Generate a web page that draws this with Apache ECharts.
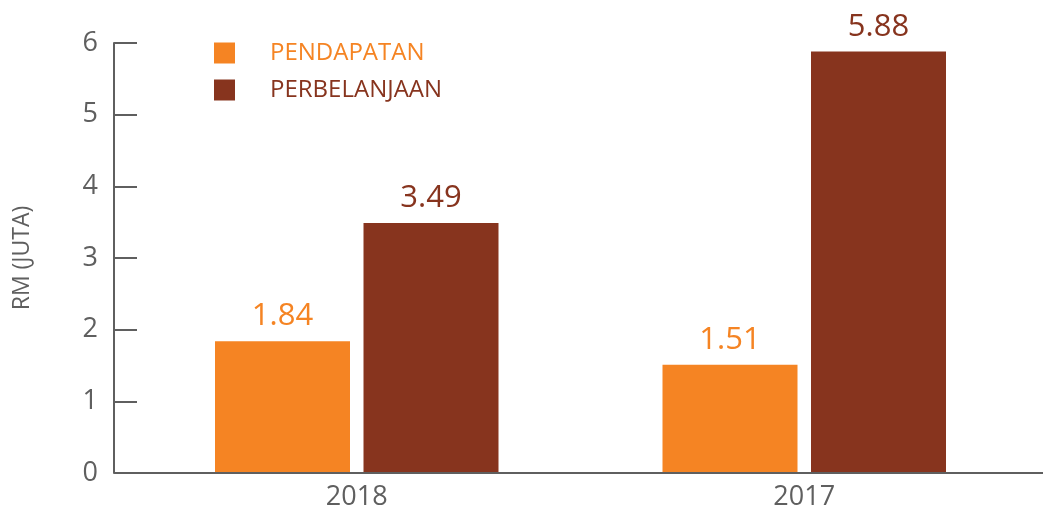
<!DOCTYPE html>
<html>
<head>
<meta charset="utf-8">
<script src="https://cdn.jsdelivr.net/npm/echarts@6/dist/echarts.min.js"></script>
<style>
  html, body { margin: 0; padding: 0; background: #fff; }
  #chart { width: 1043px; height: 514px; }
</style>
</head>
<body>
<div id="chart"></div>
<script>
// data
const categories = ['2018', '2017']
const pendapatan = [1.84, 1.51]
const perbelanjaan = [3.49, 5.88]
const yTicks = [0, 1, 2, 3, 4, 5, 6]

const orange = '#F58423'
const brown = '#87341E'
const grey = '#5f5f5f'
const font = 'Open Sans'

let myChart = echarts.init(document.getElementById('chart'))

let option = {
  animation: false,
  textStyle: { fontFamily: font },
  grid: { left: 133, right: 15, top: 43, bottom: 41, containLabel: false },
  legend: {
    orient: 'vertical',
    left: 214,
    top: 41,
    padding: 0,
    itemWidth: 21,
    itemHeight: 21,
    itemGap: 13,
    icon: 'rect',
    data: [
      { name: 'PENDAPATAN', textStyle: { color: orange } },
      { name: 'PERBELANJAAN', textStyle: { color: brown } }
    ],
    textStyle: { fontSize: 24, fontFamily: font, padding: [0, 0, 0, 30] }
  },
  xAxis: {
    type: 'category',
    data: categories,
    axisLine: { lineStyle: { color: grey, width: 2 } },
    axisTick: { show: false },
    axisLabel: { color: grey, fontSize: 27, margin: 11 }
  },
  yAxis: {
    type: 'value',
    min: yTicks[0],
    max: yTicks[yTicks.length - 1],
    interval: 1,
    offset: 19,
    name: 'RM (JUTA)',
    nameLocation: 'middle',
    nameGap: 80,
    nameTextStyle: { color: grey, fontSize: 23 },
    axisLine: { show: true, lineStyle: { color: grey, width: 2 } },
    axisTick: { show: true, inside: true, length: 23, lineStyle: { color: grey, width: 2 } },
    axisLabel: { color: grey, fontSize: 27, margin: 16 },
    splitLine: { show: false }
  },
  series: [
    {
      name: 'PENDAPATAN',
      type: 'bar',
      data: pendapatan,
      barWidth: 135,
      barGap: '10%',
      itemStyle: { color: orange },
      label: { show: true, position: 'top', distance: 9, color: orange, fontSize: 31, fontFamily: font }
    },
    {
      name: 'PERBELANJAAN',
      type: 'bar',
      data: perbelanjaan,
      barWidth: 135,
      barGap: '10%',
      itemStyle: { color: brown },
      label: { show: true, position: 'top', distance: 9, color: brown, fontSize: 31, fontFamily: font }
    }
  ]
}

myChart.setOption(option)

// extend the base line to both edges like the original
let y0 = myChart.convertToPixel({ yAxisIndex: 0 }, 0)
myChart.setOption({
  graphic: [{
    type: 'line',
    shape: { x1: 114, y1: y0, x2: 1043, y2: y0 },
    style: { stroke: grey, lineWidth: 2 },
    z: 10
  }]
})
</script>
</body>
</html>
